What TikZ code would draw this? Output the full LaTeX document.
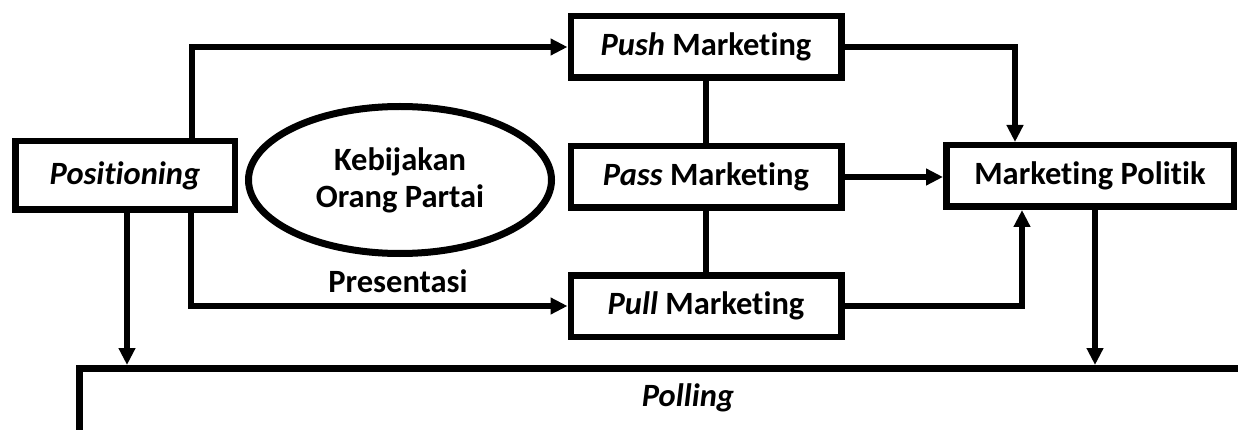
\documentclass[tikz,border=0pt]{standalone}
\usepackage{fontspec}
\setmainfont{Carlito}[Ligatures=NoCommon]
\usetikzlibrary{arrows.meta, shapes.geometric}
\tikzstyle{arrow} = [line width=5.5pt,-{Triangle[length=17pt,width=16pt]}]
\tikzstyle{link} = [line width=5.5pt]

\begin{document}
\begin{tikzpicture}[x=1pt,y=-1pt]
                \tikzstyle{every node}=[font=\fontsize{32.5}{37}\selectfont\bfseries]
                \tikzstyle{box} = [rectangle, draw=black, line width=6.5pt, minimum width=270.5pt, minimum height=61.5pt, inner sep=0pt]
                \tikzstyle{oval} = [ellipse, draw=black, line width=7pt, minimum width=303pt, minimum height=147pt, inner sep=0pt, align=center]
                \tikzstyle{label} = [inner sep=0pt]

                \useasboundingbox (0,0) rectangle (1238,430);
                \clip (0,0) rectangle (1238,430);

                \node[box, minimum width=219.5pt, minimum height=68.5pt](pos) at (125,175.5) {\textit{Positioning}};
                \node[oval](kp) at (400,180) {Kebijakan\\Orang Partai};
                \node[label](pres) at (398,281) {Presentasi};

                % the three marketing boxes
                \node[box](push) at (706,47) {\textit{Push} Marketing};
                \node[box](pass) at (706,177) {\textit{Pass} Marketing};
                \node[box](pull) at (706,306) {\textit{Pull} Marketing};

                \node[box, minimum width=287.5pt](mp) at (1090,176) {Marketing Politik};

                % polling runs off the page, text pushed up with a deep text box
                \node[box, minimum width=1217.5pt, minimum height=86.5pt, text height=20pt, text depth=31pt](poll) at (688,411.5) {\textit{Polling}};

                \draw[link] (push) -- (pass);
                \draw[link] (pass) -- (pull);

                % from positioning
                \draw[arrow] ([xshift=67pt]pos.north) |- (push.west);
                \draw[arrow] ([xshift=66pt]pos.south) |- (pull.west);
                \draw[arrow] ([xshift=2pt]pos.south) -- ([xshift=2pt]pos.south |- poll.north);

                % into marketing politik
                \draw[arrow] (push.east) -| ([xshift=-75pt]mp.north);
                \draw[arrow] (pass.east) -- (pass.east -| mp.west);
                \draw[arrow] (pull.east) -| ([xshift=-68pt]mp.south);

                \draw[arrow] ([xshift=5pt]mp.south) -- ([xshift=5pt]mp.south |- poll.north);

        \end{tikzpicture}
\end{document}
